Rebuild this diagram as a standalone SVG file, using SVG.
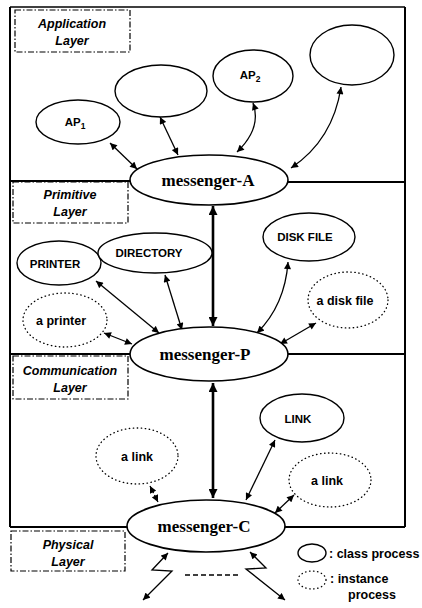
<svg xmlns="http://www.w3.org/2000/svg" width="422" height="608" viewBox="0 0 422 608">
  <defs>
    <marker id="head" viewBox="0 0 10 10" refX="10" refY="5" markerWidth="8" markerHeight="7" markerUnits="userSpaceOnUse" orient="auto-start-reverse">
      <path d="M0,0 L10,5 L0,10 z" fill="#000"/>
    </marker>
    <marker id="headBig" viewBox="0 0 10 10" refX="10" refY="5" markerWidth="11" markerHeight="9" markerUnits="userSpaceOnUse" orient="auto-start-reverse">
      <path d="M0,0 L10,5 L0,10 z" fill="#000"/>
    </marker>
  </defs>
  <style>
    .bg { fill: #fff; }
    .frame { fill: none; stroke: #000; stroke-width: 2; }
    .thin { stroke-width: 1.3; }
    .tag { fill: none; stroke: #000; stroke-width: 1.2; stroke-dasharray: 6 2 1.5 2; }
    .tagtxt { font-family: "Liberation Sans", Arial, sans-serif; font-size: 12.5px; font-style: italic; font-weight: bold; text-anchor: middle; fill: #000; }
    .cls { fill: #fff; stroke: #000; stroke-width: 1.4; }
    .inst { fill: #fff; stroke: #000; stroke-width: 1.3; stroke-dasharray: 0.5 3.5; stroke-linecap: round; }
    .msg { fill: #fff; stroke: #000; stroke-width: 1.6; }
    .msgtxt { font-family: "Liberation Serif", "Times New Roman", serif; font-size: 17px; font-weight: bold; text-anchor: middle; fill: #000; }
    .lbl { font-family: "Liberation Sans", Arial, sans-serif; font-size: 11.5px; font-weight: bold; text-anchor: middle; fill: #000; }
    .lbl2 { font-family: "Liberation Sans", Arial, sans-serif; font-size: 12.5px; font-weight: bold; text-anchor: middle; fill: #000; }
    .leg { font-family: "Liberation Sans", Arial, sans-serif; font-size: 12.5px; font-weight: bold; fill: #000; }
    .link { fill: none; stroke: #000; stroke-width: 1.3; marker-start: url(#head); marker-end: url(#head); }
    .main { fill: none; stroke: #000; stroke-width: 2.6; marker-start: url(#headBig); marker-end: url(#headBig); }
    .wire { fill: none; stroke: #000; stroke-width: 1.3; }
  </style>

  <rect class="bg" x="0" y="0" width="422" height="608"/>

  <!-- layer frames -->
  <g id="frames">
    <path class="frame thin" d="M10,7 H405"/>
    <path class="frame" d="M10,7 V527"/>
    <path class="frame" d="M405,7 V527"/>
    <path class="frame" d="M10,181 H131 M287,182 H405"/>
    <path class="frame" d="M10,354 H131 M287,354 H405"/>
    <path class="frame" d="M10,527 H128 M284,527 H405"/>
  </g>

  <!-- layer tags -->
  <g id="tag-application">
    <rect class="tag" x="15" y="10" width="115" height="42"/>
    <text class="tagtxt" x="72" y="28">Application</text>
    <text class="tagtxt" x="72" y="45">Layer</text>
  </g>
  <g id="tag-primitive">
    <rect class="tag" x="13" y="182" width="115" height="41"/>
    <text class="tagtxt" x="70" y="199">Primitive</text>
    <text class="tagtxt" x="70" y="216">Layer</text>
  </g>
  <g id="tag-communication">
    <rect class="tag" x="13" y="356" width="115" height="43"/>
    <text class="tagtxt" x="70" y="375">Communication</text>
    <text class="tagtxt" x="70" y="392">Layer</text>
  </g>
  <g id="tag-physical">
    <rect class="tag" x="11" y="531" width="114" height="40"/>
    <text class="tagtxt" x="68" y="549">Physical</text>
    <text class="tagtxt" x="68" y="566">Layer</text>
  </g>

  <!-- connectors -->
  <g id="connectors">
    <!-- application layer -->
    <path class="link" d="M110,143 L137,169"/>
    <path class="link" d="M160,117 L178,155"/>
    <path class="link" d="M253,103 Q262,128 237,152"/>
    <path class="link" d="M341,87 Q333,140 291,168"/>
    <path class="main" d="M213,206 V326"/>
    <!-- primitive layer -->
    <path class="link" d="M96,281 L159,333"/>
    <path class="link" d="M165,275 L182,330"/>
    <path class="link" d="M104,333 L132,344"/>
    <path class="link" d="M288,262 Q285,305 257,333"/>
    <path class="link" d="M316,323 L280,344"/>
    <path class="main" d="M213,383 V498"/>
    <!-- communication layer -->
    <path class="link" d="M275,440 L246,500"/>
    <path class="link" d="M294,495 L275,513"/>
    <path class="link" d="M150,486 L158,502" stroke-dasharray="3 2"/>
    <!-- physical links -->
    <path class="wire" d="M168,553 L152,570 L172,571 L143,600" marker-start="url(#head)" marker-end="url(#head)"/>
    <path class="wire" d="M250,552 L266,568 L246,569 L285,600" marker-start="url(#head)" marker-end="url(#head)"/>
    <path class="wire" d="M185,575 H238" stroke-dasharray="5 3"/>
  </g>

  <!-- application layer processes -->
  <g id="ap1">
    <ellipse class="cls" cx="78" cy="122" rx="42" ry="22"/>
    <text class="lbl" x="75" y="126">AP<tspan font-size="8.5" dy="3">1</tspan></text>
  </g>
  <g id="ap-blank-1">
    <ellipse class="cls" cx="161" cy="91" rx="46" ry="26"/>
  </g>
  <g id="ap2">
    <ellipse class="cls" cx="253" cy="76" rx="40" ry="26"/>
    <text class="lbl" x="250" y="79">AP<tspan font-size="8.5" dy="3">2</tspan></text>
  </g>
  <g id="ap-blank-2">
    <ellipse class="cls" cx="352" cy="55" rx="42" ry="30"/>
  </g>

  <g id="messenger-a">
    <ellipse class="msg" cx="209" cy="180" rx="79" ry="25"/>
    <text class="msgtxt" x="208" y="186">messenger-A</text>
  </g>

  <!-- primitive layer processes -->
  <g id="printer">
    <ellipse class="cls" cx="59" cy="263" rx="42" ry="22"/>
    <text class="lbl" x="55" y="268">PRINTER</text>
  </g>
  <g id="directory">
    <ellipse class="cls" cx="155" cy="253" rx="57" ry="20"/>
    <text class="lbl" x="149" y="257">DIRECTORY</text>
  </g>
  <g id="disk-file">
    <ellipse class="cls" cx="309" cy="237" rx="46" ry="24"/>
    <text class="lbl" x="305" y="241">DISK  FILE</text>
  </g>
  <g id="a-printer">
    <ellipse class="inst" cx="65" cy="320" rx="42" ry="27"/>
    <text class="lbl2" x="61" y="325">a printer</text>
  </g>
  <g id="a-disk-file">
    <ellipse class="inst" cx="348" cy="300" rx="40" ry="28"/>
    <text class="lbl2" x="345" y="305">a disk file</text>
  </g>

  <g id="messenger-p">
    <ellipse class="msg" cx="209" cy="354" rx="79" ry="27"/>
    <text class="msgtxt" x="205" y="360">messenger-P</text>
  </g>

  <!-- communication layer processes -->
  <g id="link">
    <ellipse class="cls" cx="302" cy="418" rx="42" ry="24"/>
    <text class="lbl" x="298" y="423">LINK</text>
  </g>
  <g id="a-link-right">
    <ellipse class="inst" cx="330" cy="480" rx="41" ry="27"/>
    <text class="lbl2" x="327" y="485">a link</text>
  </g>
  <g id="a-link-left">
    <ellipse class="inst" cx="137" cy="456" rx="41" ry="28"/>
    <text class="lbl2" x="137" y="461">a link</text>
  </g>

  <g id="messenger-c">
    <ellipse class="msg" cx="206" cy="526" rx="79" ry="26"/>
    <text class="msgtxt" x="204" y="532">messenger-C</text>
  </g>

  <!-- legend -->
  <g id="legend">
    <ellipse class="cls" cx="312" cy="553" rx="14" ry="9"/>
    <text class="leg" x="329" y="558">: class process</text>
    <ellipse class="inst" cx="312" cy="580" rx="14" ry="9"/>
    <text class="leg" x="330" y="583">: instance</text>
    <text class="leg" x="348" y="599">process</text>
  </g>
</svg>
